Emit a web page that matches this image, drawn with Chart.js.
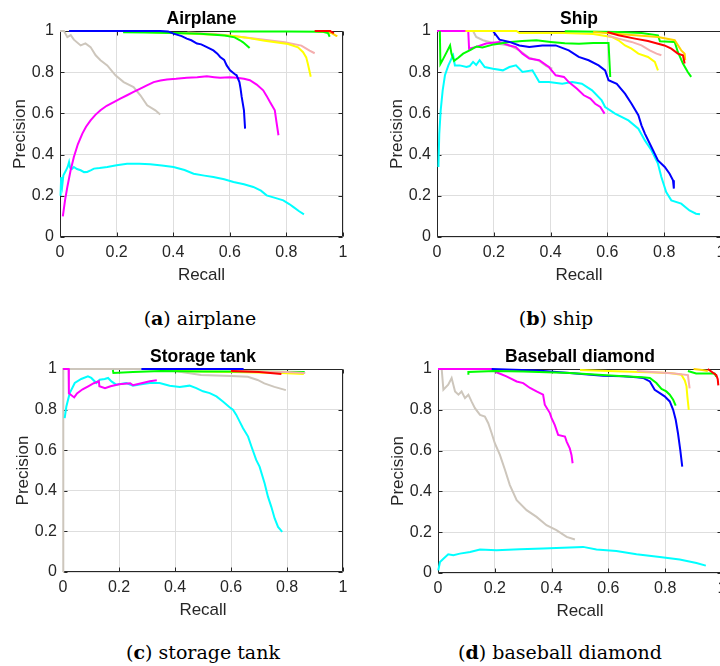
<!DOCTYPE html>
<html><head><meta charset="utf-8">
<script src="https://cdn.jsdelivr.net/npm/chart.js@4.4.0/dist/chart.umd.min.js"></script>
<style>
html,body{margin:0;padding:0;background:#fff;overflow:hidden;width:720px;height:666px;position:relative}
canvas{position:absolute}
.cap{position:absolute;font-family:"DejaVu Serif","Liberation Serif",serif;font-size:19px;color:#000;white-space:nowrap;transform:translate(-50%,-50%)}
</style></head><body>
<canvas id="ca" width="350" height="286" style="left:10px;top:0px"></canvas>
<canvas id="cb" width="351" height="286" style="left:387px;top:0px"></canvas>
<canvas id="cc" width="347" height="283" style="left:13px;top:338px"></canvas>
<canvas id="cd" width="351" height="284" style="left:388px;top:338px"></canvas>
<div class="cap" style="left:200px;top:318px">(<b>a</b>) airplane</div>
<div class="cap" style="left:556px;top:318px">(<b>b</b>) ship</div>
<div class="cap" style="left:203px;top:652px">(<b>c</b>) storage tank</div>
<div class="cap" style="left:560px;top:652px">(<b>d</b>) baseball diamond</div>
<script>
// ---------- tick values / labels ----------
const tickValues = [0, 0.2, 0.4, 0.6, 0.8, 1];
const tickLabels = ['0', '0.2', '0.4', '0.6', '0.8', '1'];
const plotTitles = ['Airplane', 'Ship', 'Storage tank', 'Baseball diamond'];

// ---------- (a) Airplane : [recall, precision] ----------
const airplaneRed = [[0.9,1],[0.955,1],[0.962,0.993],[0.968,0.99]];
const airplaneBlue = [[0.032,1],[0.2,1],[0.354,1],[0.382,0.998],[0.401,0.987],[0.43,0.975],[0.448,0.963],[0.464,0.955],[0.484,0.939],[0.499,0.935],[0.519,0.922],[0.542,0.906],[0.556,0.89],[0.566,0.874],[0.58,0.86],[0.589,0.833],[0.601,0.809],[0.617,0.791],[0.624,0.785],[0.634,0.752],[0.638,0.72],[0.642,0.68],[0.65,0.615],[0.652,0.57],[0.654,0.526]];
const airplaneGreen1 = [[0.223,0.994],[0.3,0.993],[0.4,0.99],[0.495,0.987],[0.582,0.978],[0.617,0.969],[0.636,0.955],[0.647,0.945],[0.66,0.93],[0.67,0.917]];
const airplaneGreen2 = [[0.6,0.998],[0.8,0.997],[0.93,0.996],[0.947,0.99],[0.953,0.972]];
const airplaneYellow2 = [[0.9,1],[0.96,0.99],[0.976,0.977],[0.98,0.975]];
const airplaneYellow = [[0.3,0.995],[0.45,0.988],[0.55,0.982],[0.605,0.977],[0.652,0.969],[0.723,0.953],[0.806,0.937],[0.841,0.921],[0.859,0.897],[0.87,0.872],[0.876,0.84],[0.886,0.778]];
const airplanePink = [[0.45,0.993],[0.55,0.985],[0.62,0.975],[0.7,0.961],[0.794,0.945],[0.853,0.929],[0.882,0.905],[0.9,0.892]];
const airplaneMagenta = [[0.01,0.1],[0.018,0.18],[0.026,0.243],[0.037,0.32],[0.049,0.388],[0.063,0.45],[0.079,0.502],[0.092,0.535],[0.108,0.566],[0.125,0.593],[0.143,0.615],[0.165,0.637],[0.19,0.655],[0.213,0.672],[0.237,0.688],[0.26,0.704],[0.284,0.72],[0.307,0.736],[0.331,0.752],[0.355,0.76],[0.378,0.765],[0.41,0.768],[0.448,0.773],[0.485,0.775],[0.519,0.78],[0.545,0.776],[0.566,0.773],[0.6,0.775],[0.624,0.773],[0.65,0.768],[0.671,0.761],[0.695,0.74],[0.718,0.712],[0.73,0.685],[0.742,0.655],[0.759,0.615],[0.765,0.558],[0.772,0.494]];
const airplaneCyan = [[0.002,0.2],[0.004,0.29],[0.008,0.25],[0.012,0.3],[0.02,0.32],[0.027,0.34],[0.032,0.364],[0.036,0.335],[0.042,0.33],[0.049,0.34],[0.06,0.33],[0.073,0.324],[0.085,0.315],[0.096,0.316],[0.11,0.325],[0.12,0.332],[0.14,0.335],[0.167,0.34],[0.2,0.348],[0.237,0.356],[0.28,0.355],[0.319,0.353],[0.36,0.347],[0.401,0.34],[0.44,0.325],[0.472,0.307],[0.51,0.298],[0.542,0.291],[0.58,0.28],[0.613,0.267],[0.65,0.256],[0.683,0.243],[0.71,0.225],[0.73,0.202],[0.76,0.19],[0.789,0.178],[0.81,0.16],[0.824,0.146],[0.845,0.125],[0.862,0.11]];
const airplaneGray = [[0,1],[0.014,1],[0.026,0.97],[0.038,0.98],[0.049,0.958],[0.073,0.93],[0.09,0.94],[0.108,0.922],[0.126,0.882],[0.143,0.858],[0.167,0.833],[0.196,0.785],[0.225,0.752],[0.26,0.728],[0.284,0.688],[0.308,0.639],[0.337,0.615],[0.354,0.595]];

// ---------- (b) Ship ----------
const shipRed = [[0.6,0.995],[0.639,0.979],[0.697,0.963],[0.743,0.951],[0.801,0.93],[0.825,0.914],[0.848,0.89],[0.866,0.882],[0.872,0.842]];
const shipYellow2 = [[0.55,0.995],[0.697,0.979],[0.778,0.971],[0.837,0.955],[0.86,0.906],[0.872,0.89],[0.874,0.858]];
const shipGreen2 = [[0.45,0.999],[0.639,0.995],[0.72,0.99],[0.778,0.979],[0.785,0.95],[0.837,0.947],[0.848,0.898],[0.866,0.842],[0.883,0.801],[0.895,0.777]];
const shipPink = [[0.6,0.978],[0.639,0.963],[0.685,0.947],[0.72,0.93],[0.749,0.906],[0.773,0.89],[0.79,0.882]];
const shipYellow = [[0.1,1],[0.28,1],[0.29,0.99],[0.45,0.99],[0.55,0.985],[0.615,0.971],[0.639,0.955],[0.662,0.93],[0.685,0.914],[0.709,0.89],[0.743,0.874],[0.767,0.85],[0.778,0.809]];
const shipBlue = [[0.136,1],[0.197,1],[0.22,0.958],[0.255,0.947],[0.29,0.93],[0.325,0.922],[0.371,0.93],[0.418,0.93],[0.464,0.906],[0.499,0.874],[0.534,0.858],[0.569,0.833],[0.592,0.809],[0.604,0.761],[0.633,0.744],[0.662,0.696],[0.685,0.647],[0.709,0.591],[0.72,0.542],[0.732,0.502],[0.755,0.437],[0.778,0.372],[0.802,0.34],[0.819,0.307],[0.831,0.275],[0.834,0.235]];
const shipGreen1 = [[0.01,1],[0.012,0.84],[0.02,0.86],[0.035,0.9],[0.046,0.93],[0.051,0.89],[0.06,0.855],[0.075,0.87],[0.092,0.89],[0.12,0.91],[0.139,0.925],[0.16,0.92],[0.2,0.935],[0.25,0.945],[0.3,0.951],[0.35,0.955],[0.4,0.947],[0.45,0.94],[0.5,0.938],[0.55,0.942],[0.604,0.942],[0.61,0.777]];
const shipMagenta = [[0,1],[0.11,1],[0.113,0.914],[0.138,0.922],[0.173,0.939],[0.22,0.947],[0.255,0.93],[0.278,0.922],[0.301,0.89],[0.325,0.866],[0.36,0.858],[0.394,0.825],[0.418,0.785],[0.447,0.777],[0.464,0.752],[0.493,0.72],[0.517,0.688],[0.54,0.672],[0.557,0.647],[0.575,0.631],[0.59,0.599]];
const shipGray = [[0.127,1],[0.138,0.971],[0.162,0.955],[0.185,0.947],[0.208,0.939],[0.255,0.93],[0.29,0.906],[0.325,0.87],[0.36,0.855],[0.385,0.83],[0.406,0.817]];
const shipCyan = [[0.005,0.34],[0.008,0.5],[0.013,0.615],[0.02,0.712],[0.028,0.785],[0.04,0.833],[0.051,0.866],[0.057,0.882],[0.063,0.833],[0.08,0.833],[0.104,0.825],[0.115,0.83],[0.127,0.85],[0.138,0.835],[0.15,0.858],[0.168,0.825],[0.197,0.817],[0.232,0.809],[0.255,0.825],[0.278,0.833],[0.301,0.801],[0.336,0.809],[0.36,0.752],[0.394,0.752],[0.441,0.744],[0.476,0.752],[0.51,0.744],[0.546,0.712],[0.58,0.663],[0.592,0.631],[0.627,0.599],[0.674,0.566],[0.709,0.526],[0.732,0.469],[0.755,0.421],[0.778,0.356],[0.79,0.291],[0.807,0.218],[0.825,0.178],[0.86,0.162],[0.889,0.129],[0.912,0.113],[0.926,0.11]];

// ---------- (c) Storage tank ----------
const tankRed = [[0.6,0.99],[0.7,0.985],[0.78,0.975]];
const tankPink = [[0.6,0.99],[0.8,0.985],[0.865,0.98]];
const tankYellow = [[0.4,0.99],[0.6,0.985],[0.78,0.98],[0.86,0.975]];
const tankGreen = [[0.178,0.995],[0.18,0.98],[0.25,0.985],[0.35,0.99],[0.5,0.988],[0.65,0.988],[0.75,0.987],[0.86,0.985],[0.862,0.978]];
const tankBlue = [[0.28,1],[0.645,1]];
const tankMagenta = [[0,1],[0.02,1],[0.021,0.88],[0.04,0.86],[0.05,0.88],[0.07,0.9],[0.09,0.915],[0.11,0.93],[0.128,0.94],[0.13,0.915],[0.15,0.905],[0.17,0.915],[0.2,0.925],[0.24,0.93],[0.25,0.92],[0.28,0.93],[0.31,0.94],[0.335,0.945]];
const tankCyan = [[0.006,0.758],[0.012,0.815],[0.024,0.881],[0.042,0.931],[0.065,0.951],[0.089,0.964],[0.101,0.956],[0.119,0.931],[0.131,0.947],[0.149,0.951],[0.161,0.956],[0.173,0.939],[0.19,0.923],[0.226,0.931],[0.25,0.918],[0.274,0.923],[0.31,0.931],[0.345,0.931],[0.381,0.918],[0.417,0.911],[0.452,0.918],[0.476,0.906],[0.5,0.89],[0.524,0.881],[0.548,0.865],[0.571,0.84],[0.595,0.812],[0.607,0.799],[0.619,0.774],[0.631,0.741],[0.643,0.708],[0.661,0.667],[0.673,0.618],[0.69,0.552],[0.702,0.519],[0.72,0.437],[0.732,0.371],[0.744,0.321],[0.756,0.264],[0.768,0.222],[0.783,0.198]];
const tankGray = [[0,0],[0.001,1],[0.35,1],[0.4,0.99],[0.493,0.97],[0.6,0.965],[0.66,0.962],[0.695,0.946],[0.719,0.929],[0.755,0.912],[0.796,0.896]];

// ---------- (d) Baseball diamond ----------
const baseballRed = [[0.95,1],[0.98,0.97],[0.985,0.95],[0.987,0.92]];
const baseballYellow2 = [[0.9,1],[0.93,0.995],[0.95,0.99]];
const baseballGreen2 = [[0.88,0.99],[0.909,0.978],[0.974,0.978],[0.98,0.962]];
const baseballPink = [[0.7,0.99],[0.833,0.978],[0.88,0.97],[0.886,0.905]];
const baseballYellow = [[0.5,0.995],[0.6,0.99],[0.816,0.98],[0.857,0.972],[0.869,0.944],[0.875,0.915],[0.878,0.866],[0.883,0.8]];
const baseballGreen = [[0.107,0.972],[0.107,0.985],[0.2,0.99],[0.3,0.988],[0.464,0.98],[0.652,0.964],[0.72,0.96],[0.746,0.956],[0.769,0.931],[0.787,0.902],[0.804,0.89],[0.816,0.874],[0.828,0.849],[0.837,0.82]];
const baseballBlue = [[0.189,1],[0.347,0.993],[0.464,0.98],[0.581,0.967],[0.652,0.964],[0.699,0.959],[0.722,0.956],[0.746,0.939],[0.763,0.898],[0.781,0.882],[0.798,0.866],[0.816,0.841],[0.828,0.8],[0.837,0.751],[0.845,0.685],[0.853,0.603],[0.86,0.521]];
const baseballMagenta = [[0,1],[0.19,1],[0.206,0.984],[0.241,0.964],[0.277,0.939],[0.3,0.931],[0.324,0.907],[0.347,0.89],[0.37,0.874],[0.376,0.825],[0.394,0.784],[0.4,0.759],[0.411,0.726],[0.423,0.677],[0.447,0.669],[0.453,0.644],[0.464,0.611],[0.47,0.579],[0.474,0.538]];
const baseballGray = [[0.013,1],[0.019,0.898],[0.036,0.923],[0.048,0.956],[0.06,0.89],[0.072,0.874],[0.083,0.89],[0.095,0.857],[0.107,0.874],[0.118,0.841],[0.13,0.808],[0.148,0.775],[0.165,0.767],[0.177,0.734],[0.189,0.685],[0.2,0.636],[0.218,0.579],[0.236,0.505],[0.253,0.431],[0.277,0.357],[0.312,0.308],[0.347,0.275],[0.382,0.234],[0.417,0.21],[0.453,0.177],[0.482,0.164]];
const baseballCyan = [[0.001,0.013],[0.007,0.054],[0.019,0.07],[0.036,0.092],[0.054,0.087],[0.077,0.095],[0.113,0.103],[0.148,0.115],[0.206,0.111],[0.288,0.116],[0.37,0.12],[0.464,0.125],[0.511,0.128],[0.558,0.115],[0.628,0.108],[0.699,0.092],[0.781,0.079],[0.851,0.066],[0.91,0.049],[0.943,0.036]];

// ---------- colours ----------
const C = {red:'#ff0000', green:'#00ff00', blue:'#0000ff', magenta:'#ff00ff', cyan:'#00ffff',
  yellow:'#ffff00', yellow2:'#ffd400', pink:'#f4aeae', gray:'#cdc6bc'};

// first listed = drawn on top
const panels = [
  {id:'ca', title:plotTitles[0], series:[
    [airplaneRed,C.red],[airplaneBlue,C.blue],[airplaneGreen1,C.green],[airplaneGreen2,C.green],
    [airplaneYellow2,C.yellow2],[airplaneYellow,C.yellow],[airplanePink,C.pink],
    [airplaneMagenta,C.magenta],[airplaneCyan,C.cyan],[airplaneGray,C.gray]]},
  {id:'cb', title:plotTitles[1], series:[
    [shipRed,C.red],[shipYellow2,C.yellow2],[shipGreen2,C.green],[shipPink,C.pink],[shipYellow,C.yellow],
    [shipBlue,C.blue],[shipGreen1,C.green],[shipMagenta,C.magenta],[shipGray,C.gray],[shipCyan,C.cyan]]},
  {id:'cc', title:plotTitles[2], series:[
    [tankBlue,C.blue],[tankRed,C.red],[tankPink,C.pink],[tankGreen,C.green],[tankYellow,C.yellow],
    [tankMagenta,C.magenta],[tankCyan,C.cyan],[tankGray,C.gray]]},
  {id:'cd', title:plotTitles[3], series:[
    [baseballRed,C.red],[baseballYellow2,C.yellow2],[baseballGreen2,C.green],[baseballPink,C.pink],
    [baseballYellow,C.yellow],[baseballGreen,C.green],[baseballBlue,C.blue],[baseballMagenta,C.magenta],
    [baseballGray,C.gray],[baseballCyan,C.cyan]]}
];

const AXC = '#262626';
const FONT = '"Liberation Sans", Arial, sans-serif';
const boxPlugin = {
  id:'boxTicks',
  beforeDatasetsDraw(chart){
    const {ctx, chartArea:{left,right,top,bottom}, scales:{x,y}} = chart;
    const L = Math.round(left)+0.5, R = Math.round(right)-0.5, T = Math.round(top)+0.5, B = Math.round(bottom)-0.5;
    ctx.save();
    ctx.strokeStyle = AXC; ctx.lineWidth = 1;
    ctx.beginPath();
    ctx.rect(L, T, R-L, B-T);
    tickValues.forEach(v=>{
      const px = Math.round(x.getPixelForValue(v))+0.5;
      ctx.moveTo(px,B); ctx.lineTo(px,B-4);
      ctx.moveTo(px,T); ctx.lineTo(px,T+4);
      const py = Math.round(y.getPixelForValue(v))+0.5;
      ctx.moveTo(L,py); ctx.lineTo(L+4,py);
      ctx.moveTo(R,py); ctx.lineTo(R-4,py);
    });
    ctx.stroke();
    ctx.restore();
  },
  afterDraw(chart, args, opts){
    const {ctx, chartArea:{left,right,top}} = chart;
    ctx.save();
    ctx.fillStyle = '#000';
    ctx.font = 'bold 17.5px ' + FONT;
    ctx.textAlign = 'center'; ctx.textBaseline = 'middle';
    ctx.fillText(opts.text, (left+right)/2, top - 12);
    ctx.restore();
  }
};

function axis(titleText, isX){
  return {
    type:'linear', min:0, max:1,
    afterBuildTicks: s => { s.ticks = tickValues.map(v=>({value:v})); },
    afterFit: s => { if(isX) s.height = 49; else s.width = 50; },
    ticks:{padding:6, color:AXC, autoSkip:false, maxRotation:0,
      font:{family:FONT, size:16},
      callback:(v)=>{ const i = tickValues.findIndex(t=>Math.abs(t-v)<1e-9); return i>=0?tickLabels[i]:''; }},
    grid:{color:'#dedede', lineWidth:1, drawTicks:false},
    border:{display:false},
    title:{display:true, text:titleText, color:AXC, padding:0,
      font:{family:FONT, size:17}}
  };
}

panels.forEach(p=>{
  new Chart(document.getElementById(p.id), {
    type:'scatter',
    data:{datasets:p.series.map(([pts,col])=>({
      data: pts.map(([r,pr])=>({x:r,y:pr})),
      borderColor:col, backgroundColor:col, borderWidth:2, pointRadius:0,
      showLine:true, fill:false, tension:0, clip:4
    }))},
    options:{
      responsive:false, animation:false, events:[],
      layout:{padding:{left:0,right:17,top:31,bottom:0}},
      plugins:{legend:{display:false}, tooltip:{enabled:false}, title:{display:false},
        boxTicks:{text:p.title}},
      scales:{x:axis('Recall', true), y:axis('Precision', false)}
    },
    plugins:[boxPlugin]
  });
});
</script>
</body></html>
